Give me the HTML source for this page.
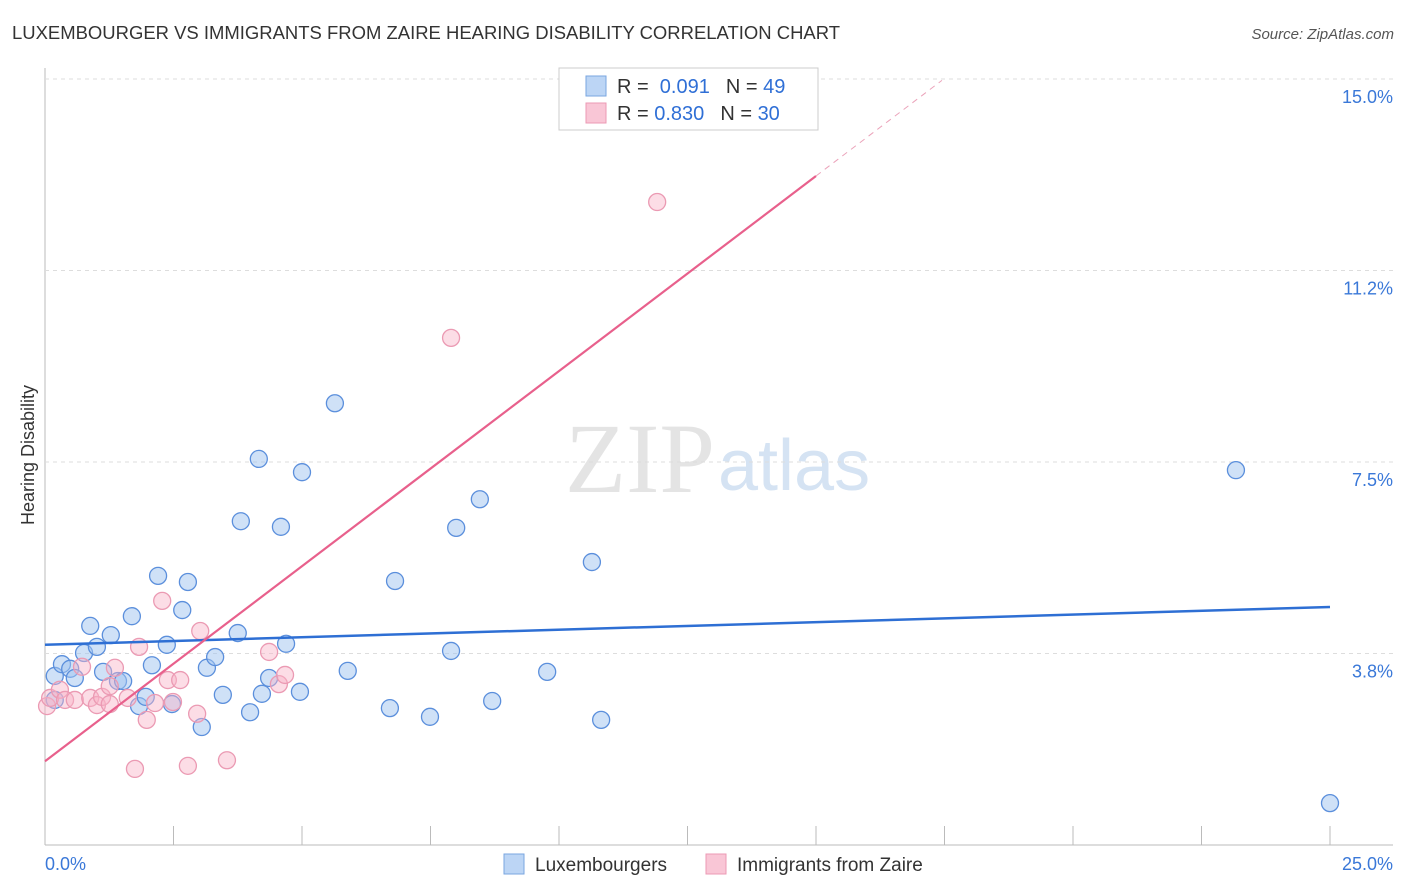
<!DOCTYPE html>
<html><head><meta charset="utf-8"><style>
body{margin:0;background:#fff;font-family:"Liberation Sans",sans-serif;}
svg{display:block}
</style></head><body>
<svg id="c" width="1406" height="892">
<text x="12" y="39" font-size="18" fill="#333" textLength="828" lengthAdjust="spacingAndGlyphs">LUXEMBOURGER VS IMMIGRANTS FROM ZAIRE HEARING DISABILITY CORRELATION CHART</text>
<text x="1394" y="39" font-size="15" fill="#555" font-style="italic" text-anchor="end">Source: ZipAtlas.com</text>
<text x="715" y="492" font-size="100" fill="#e4e4e4" font-family="Liberation Serif,serif" text-anchor="end">ZIP</text>
<text x="718" y="490" font-size="72" fill="#d5e3f3">atlas</text>
<text transform="translate(34,455) rotate(-90)" font-size="18" fill="#333" text-anchor="middle">Hearing Disability</text>
<g id="grid"></g><g id="pts"></g><g id="lines"></g>
<rect x="559" y="68" width="259" height="62" fill="#fff" stroke="#ccc"/>
<rect x="586" y="76" width="20" height="20" fill="#bcd5f5" stroke="#7aa6e0"/>
<rect x="586" y="103" width="20" height="20" fill="#f9c6d6" stroke="#ec9ab4"/>
<text x="617" y="93" font-size="20" fill="#333">R = <tspan fill="#2f6fd6">&#160;0.091</tspan><tspan dx="16">N = </tspan><tspan fill="#2f6fd6">49</tspan></text>
<text x="617" y="120" font-size="20" fill="#333">R = <tspan fill="#2f6fd6">0.830</tspan><tspan dx="16">N = </tspan><tspan fill="#2f6fd6">30</tspan></text>
<rect x="504" y="854" width="20" height="20" fill="#bcd5f5" stroke="#7aa6e0"/>
<text x="535" y="871" font-size="19" fill="#333">Luxembourgers</text>
<rect x="706" y="854" width="20" height="20" fill="#f9c6d6" stroke="#ec9ab4"/>
<text x="737" y="871" font-size="19" fill="#333">Immigrants from Zaire</text>
</svg>
<script>
const xTicks=[0,2.5,5,7.5,10,12.5,15,17.5,20,22.5,25];
const yTicks=[3.75,7.5,11.25,15];
const yTickLabels=["3.8%","7.5%","11.2%","15.0%"];
const xEndLabels=["0.0%","25.0%"];
const luxX=[0.19,0.33,0.49,0.58,0.88,0.76,1.01,1.28,1.13,1.42,1.52,1.69,1.83,1.96,2.08,2.20,2.37,2.47,2.67,2.78,3.05,3.15,3.31,3.46,3.75,3.81,3.99,4.16,4.22,4.36,4.59,4.69,4.96,5.00,5.64,5.89,6.71,6.81,7.49,7.90,8.00,8.46,8.70,9.77,10.64,10.82,23.17,25.0,0.19];
const luxY=[3.31,3.54,3.45,3.27,4.29,3.76,3.88,4.11,3.39,3.21,3.21,4.48,2.72,2.90,3.52,5.27,3.92,2.76,4.60,5.15,2.31,3.47,3.68,2.94,4.15,6.34,2.60,7.56,2.96,3.27,6.23,3.94,3.00,7.30,8.65,3.41,2.68,5.17,2.51,3.80,6.21,6.77,2.82,3.39,5.54,2.45,7.34,0.82,2.84];
const zX=[0.04,0.10,0.29,0.39,0.58,0.72,0.88,1.01,1.11,1.26,1.36,1.61,1.75,1.83,1.98,2.14,2.28,2.39,2.49,2.63,2.78,2.96,3.02,3.54,4.36,4.55,4.67,7.90,11.91,1.26];
const zY=[2.72,2.88,3.04,2.84,2.84,3.49,2.88,2.74,2.90,2.76,3.47,2.88,1.49,3.88,2.45,2.78,4.78,3.23,2.80,3.23,1.55,2.57,4.19,1.66,3.78,3.15,3.33,9.93,12.59,3.11];
const luxFit=[3.92,0.0296];
const zFit=[1.64,0.764];
const X=v=>45+v*51.4, Y=v=>845-v*51.07;
const NS="http://www.w3.org/2000/svg";
function mk(t,a,p){const e=document.createElementNS(NS,t);for(const k in a)e.setAttribute(k,a[k]);p.appendChild(e);return e;}
const g=document.getElementById('grid');
let ax=mk('line',{x1:45,y1:68,x2:45,y2:845,stroke:'#bbb'},g);


let bx=mk('line',{x1:45,y1:845,x2:1393,y2:845,stroke:'#bbb'},g);


yTicks.forEach((v,i)=>{
 const l=mk('line',{x1:45,y1:Y(v),x2:1393,y2:Y(v),stroke:'#ddd','stroke-dasharray':'4,4'},g);
 
 
 const t=mk('text',{x:1393,y:Y(v)+24,'font-size':18,fill:'#3a78d8','text-anchor':'end'},g);t.textContent=yTickLabels[i];
 
 
});
xTicks.forEach(v=>{
 const l=mk('line',{x1:X(v),y1:826,x2:X(v),y2:845,stroke:'#bbb'},g);
 
 
});
let t0=mk('text',{x:45,y:870,'font-size':18,fill:'#3a78d8'},g);t0.textContent=xEndLabels[0];


let t1=mk('text',{x:1393,y:870,'font-size':18,fill:'#3a78d8','text-anchor':'end'},g);t1.textContent=xEndLabels[1];


const p=document.getElementById('pts');
luxX.forEach((x,i)=>{
 const c=mk('circle',{cx:X(x),cy:Y(luxY[i]),r:8.5,fill:'rgba(160,195,240,0.5)',stroke:'#5b8fdc','stroke-width':1.3},p);
 
 
});
zX.forEach((x,i)=>{
 const c=mk('circle',{cx:X(x),cy:Y(zY[i]),r:8.5,fill:'rgba(248,180,200,0.45)',stroke:'#eb9ab3','stroke-width':1.3},p);
 
 
});
const L=document.getElementById('lines');
let bl=mk('line',{x1:X(0),y1:Y(luxFit[0]),x2:X(25),y2:Y(luxFit[0]+luxFit[1]*25),stroke:'#2e6fd4','stroke-width':2.5},L);


let pl=mk('line',{x1:X(0),y1:Y(zFit[0]),x2:X(15),y2:Y(zFit[0]+zFit[1]*15),stroke:'#e8608c','stroke-width':2.2},L);


let pd=mk('line',{x1:X(15),y1:Y(zFit[0]+zFit[1]*15),x2:X(17.45),y2:Y(zFit[0]+zFit[1]*17.45),stroke:'#eba3ba','stroke-width':1,'stroke-dasharray':'6,5'},L);


</script>
</body></html>
